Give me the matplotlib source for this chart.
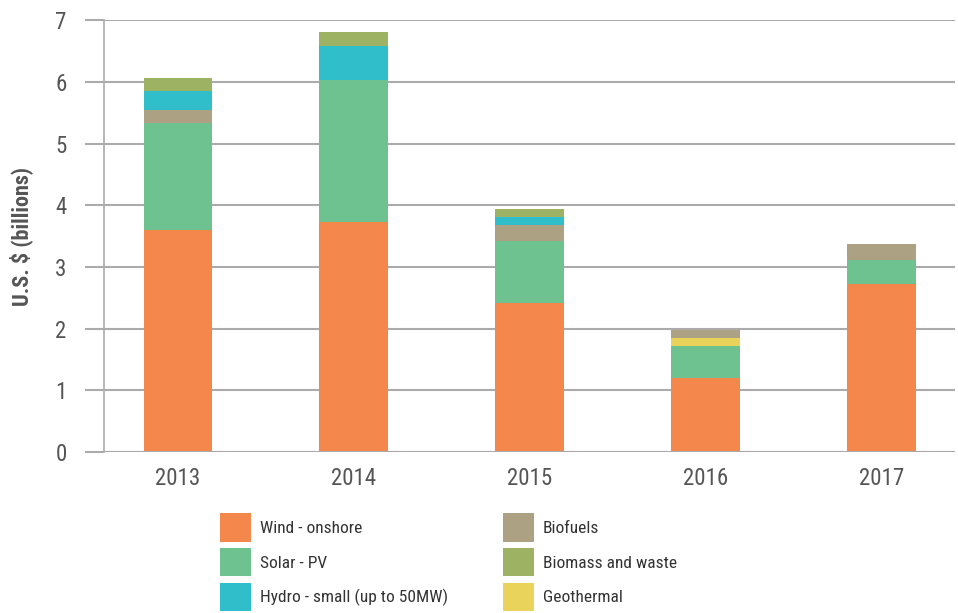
import numpy as np
import matplotlib.pyplot as plt
from matplotlib.patches import Patch

plt.rcParams['font.family'] = ['Roboto Condensed', 'Liberation Sans Narrow', 'Roboto', 'DejaVu Sans']

years = ['2013', '2014', '2015', '2016', '2017']

wind = [3.60, 3.73, 2.41, 1.20, 2.73]
solar = [1.73, 2.30, 1.01, 0.52, 0.38]
geothermal = [0.0, 0.0, 0.0, 0.13, 0.0]
biofuels = [0.21, 0.0, 0.26, 0.13, 0.26]
hydro = [0.31, 0.55, 0.13, 0.0, 0.0]
biomass = [0.21, 0.23, 0.13, 0.0, 0.0]

# stacking order bottom -> top
series = [
    ('Wind - onshore', wind, '#F4874B'),
    ('Solar - PV', solar, '#6DC28F'),
    ('Geothermal', geothermal, '#E9D35A'),
    ('Biofuels', biofuels, '#ADA184'),
    ('Hydro - small (up to 50MW)', hydro, '#31BECB'),
    ('Biomass and waste', biomass, '#9DB262'),
]
colors = {name: c for name, _, c in series}

legend_order = ['Wind - onshore', 'Solar - PV', 'Hydro - small (up to 50MW)',
                'Biofuels', 'Biomass and waste', 'Geothermal']

grid_c = '#ABABAB'
text_c = '#555555'

fig = plt.figure(figsize=(9.58, 6.13), dpi=100)
ax = fig.add_axes([0.1086, 0.2626, 0.8884, 0.7044])

x = np.arange(len(years))
bottom = np.zeros(len(years))
for name, vals, c in series:
    vals = np.array(vals)
    ax.bar(x, vals, 0.39, bottom=bottom, color=c, zorder=3, linewidth=0)
    bottom += vals

ax.set_xlim(-0.42, 4.42)
ax.set_ylim(0, 7)
ax.set_yticks(range(8))
ax.grid(axis='y', color=grid_c, linewidth=1.5, zorder=0)

for s in ['top', 'right', 'bottom']:
    ax.spines[s].set_visible(False)
ax.spines['left'].set_color(grid_c)
ax.spines['left'].set_linewidth(1.2)
ax.axhline(0, color=grid_c, linewidth=1.5, zorder=4)

ax.tick_params(axis='y', length=14, width=1.5, color=grid_c, pad=13,
               labelsize=16.5, labelcolor=text_c)
ax.tick_params(axis='x', length=0, pad=11, labelsize=16.5, labelcolor=text_c)
ax.set_xticks(x)
ax.set_xticklabels(years)

ax.set_ylabel('U.S. $ (billions)', fontsize=16, fontweight='bold',
              color=text_c)
ax.yaxis.set_label_coords(-0.083, 0.5)

handles = [Patch(facecolor=colors[n], edgecolor='none') for n in legend_order]
fig.legend(handles, legend_order, loc='upper left',
           bbox_to_anchor=(0.2297, 0.163), ncol=2, frameon=False,
           fontsize=12.5, handlelength=1.78, handleheight=2.15,
           handletextpad=0.5, labelspacing=0.36, columnspacing=3.2,
           borderpad=0, borderaxespad=0, labelcolor='#333333')

fig.savefig('out.png', dpi=100)
